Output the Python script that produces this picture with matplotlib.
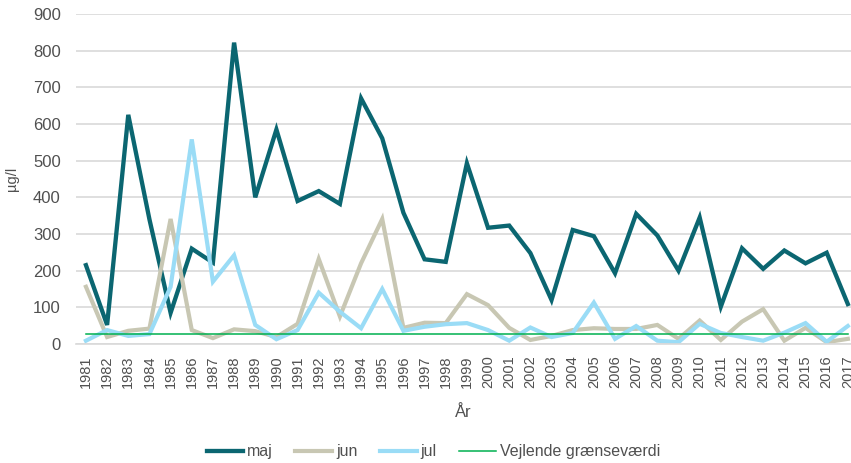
import matplotlib
matplotlib.use('Agg')
import matplotlib.pyplot as plt

plt.rcParams['font.family'] = ['Liberation Sans', 'DejaVu Sans']

years = list(range(1981, 2018))
maj = [215, 52, 625, 340, 85, 260, 222, 822, 400, 585,
       390, 417, 382, 670, 561, 358, 231, 224, 493, 317,
       323, 248, 120, 311, 294, 193, 355, 296, 200, 345,
       102, 261, 205, 255, 220, 249, 109]
jun = [156, 19, 36, 42, 341, 38, 16, 40, 35, 19,
       55, 232, 75, 220, 341, 44, 58, 57, 136, 106,
       44, 11, 22, 38, 43, 41, 41, 52, 14, 64,
       11, 61, 95, 9, 44, 5, 14]
jul = [9, 38, 22, 27, 156, 558, 170, 242, 52, 13,
       38, 140, 88, 43, 150, 36, 47, 54, 57, 38,
       9, 45, 19, 30, 113, 14, 49, 9, 5, 55,
       30, 19, 9, 31, 57, 6, 49]
graense = [27] * len(years)

grey = '#505050'

fig = plt.figure(figsize=(8.51, 4.63), dpi=100)
ax = fig.add_axes([76/851, 1 - 344/463, 1 - 76/851, 330/463])

x = list(range(len(years)))
ax.plot(x, maj, color='#0b6671', lw=3.1, label='maj', solid_joinstyle='miter')
ax.plot(x, jun, color='#c8c7b3', lw=3.0, label='jun', solid_joinstyle='miter')
ax.plot(x, jul, color='#9adcf6', lw=3.0, label='jul', solid_joinstyle='miter')
ax.plot(x, graense, color='#00b050', lw=1.1, label='Vejlende grænseværdi')

ax.set_xlim(-0.47, 36.15)
ax.set_ylim(0, 900)
ax.set_yticks(range(0, 901, 100))
ax.set_xticks(x)
ax.set_xticklabels([str(y) for y in years], rotation=90)
ax.grid(axis='y', color='#d9d9d9', lw=1.2)
ax.set_axisbelow(True)
for s in ['top', 'right', 'left']:
    ax.spines[s].set_visible(False)
ax.spines['bottom'].set_color('#d9d9d9')
ax.spines['bottom'].set_linewidth(1.2)
ax.tick_params(axis='y', length=0, pad=11, labelsize=12, labelcolor=grey)
ax.tick_params(axis='x', length=0, pad=8, labelsize=10.5, labelcolor=grey)

ax.set_ylabel('µg/l', fontsize=10.5, color=grey, labelpad=10)
ax.set_xlabel('År', fontsize=12, color=grey, labelpad=12)

ax.legend(loc='center', bbox_to_anchor=(0.461, -0.327), ncol=4, frameon=False,
          fontsize=11.5, handlelength=2.3, handletextpad=0.25, columnspacing=1.4,
          labelcolor=grey, borderpad=0)

fig.savefig('out.png', dpi=100)
